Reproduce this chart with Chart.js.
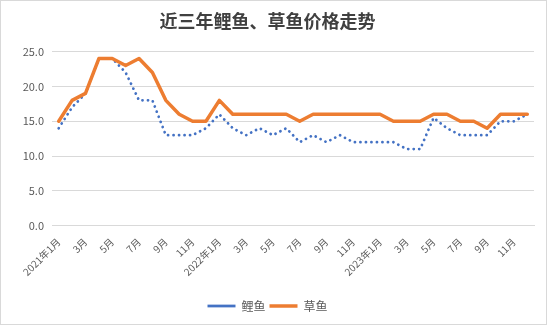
<!DOCTYPE html>
<html lang="zh-CN">
<head>
<meta charset="utf-8">
<title>近三年鲤鱼、草鱼价格走势</title>
<script src="https://cdn.jsdelivr.net/npm/chart.js@4.4.1/dist/chart.umd.min.js"></script>
<style>
    html, body { margin: 0; padding: 0; background: #fff; }
    .chart-box { width: 545px; height: 323px; border: 1px solid #d9d9d9; background: #fff; }
</style>
</head>
<body>
<div class="chart-box"><canvas id="priceChart"></canvas></div>
<script>
// 月份（2021年1月 - 2023年12月）
const months = [
    '2021年1月', '2月', '3月', '4月', '5月', '6月', '7月', '8月', '9月', '10月', '11月', '12月',
    '2022年1月', '2月', '3月', '4月', '5月', '6月', '7月', '8月', '9月', '10月', '11月', '12月',
    '2023年1月', '2月', '3月', '4月', '5月', '6月', '7月', '8月', '9月', '10月', '11月', '12月'
];

// 鲤鱼价格
const carpPrices = [
    14, 17, 19, 24, 24, 22, 18, 18, 13, 13, 13, 14,
    16, 14, 13, 14, 13, 14, 12, 13, 12, 13, 12, 12,
    12, 12, 11, 11, 15.5, 14, 13, 13, 13, 15, 15, 16
];

// 草鱼价格
const grassCarpPrices = [
    15, 18, 19, 24, 24, 23, 24, 22, 18, 16, 15, 15,
    18, 16, 16, 16, 16, 16, 15, 16, 16, 16, 16, 16,
    16, 15, 15, 15, 16, 16, 15, 15, 14, 16, 16, 16
];

// 纵轴范围
const yMin = 0;
const yMax = 25;
const yStep = 5;

const cjkFont = '"Noto Sans CJK SC", "Microsoft YaHei", sans-serif';

const ctx = document.getElementById('priceChart').getContext('2d');
const priceChart = new Chart(ctx, {
    type: 'line',
    data: {
        labels: months,
        datasets: [{
            label: '鲤鱼',
            data: carpPrices,
            borderColor: '#4472C4',
            backgroundColor: '#4472C4',
            borderWidth: 2.75,
            borderDash: [0.1, 5.4],
            borderCapStyle: 'round',
            pointRadius: 0,
            tension: 0,
            order: 1
        }, {
            label: '草鱼',
            data: grassCarpPrices,
            borderColor: '#ED7D31',
            backgroundColor: '#ED7D31',
            borderWidth: 3.5,
            borderCapStyle: 'round',
            borderJoinStyle: 'round',
            pointRadius: 0,
            tension: 0,
            order: 0
        }]
    },
    options: {
        responsive: true,
        maintainAspectRatio: false,
        devicePixelRatio: 1,
        animation: false,
        layout: {
            padding: { top: 0, right: 12, bottom: 2, left: 0 }
        },
        plugins: {
            title: {
                display: true,
                text: '近三年鲤鱼、草鱼价格走势',
                color: '#404040',
                font: { family: cjkFont, size: 18, weight: 'bold' },
                padding: { top: 9, bottom: 20 }
            },
            legend: {
                position: 'bottom',
                labels: {
                    usePointStyle: true,
                    pointStyle: 'line',
                    pointStyleWidth: 28,
                    padding: 4,
                    color: '#595959',
                    font: { family: cjkFont, size: 12 },
                    // 图例按数据集顺序排列（鲤鱼在前）
                    sort: (a, b) => a.datasetIndex - b.datasetIndex
                }
            },
            tooltip: { enabled: false }
        },
        scales: {
            x: {
                offset: true,
                grid: { display: false, offset: true },
                border: { color: '#d9d9d9' },
                ticks: {
                    autoSkip: false,
                    minRotation: 45,
                    maxRotation: 45,
                    padding: 2,
                    color: '#595959',
                    font: { family: cjkFont, size: 10 },
                    // 每隔一个月显示一个标签
                    callback: function(value, index) {
                        return index % 2 === 0 ? this.getLabelForValue(value) : '';
                    }
                },
                afterFit: scale => { scale.height += 16; }
            },
            y: {
                min: yMin,
                max: yMax,
                grid: { color: '#d9d9d9', drawTicks: false },
                border: { display: false },
                ticks: {
                    stepSize: yStep,
                    padding: 8,
                    color: '#595959',
                    font: { family: cjkFont, size: 11 },
                    callback: value => value.toFixed(1)
                },
                afterFit: scale => { scale.width = 51; }
            }
        }
    }
});
</script>
</body>
</html>
